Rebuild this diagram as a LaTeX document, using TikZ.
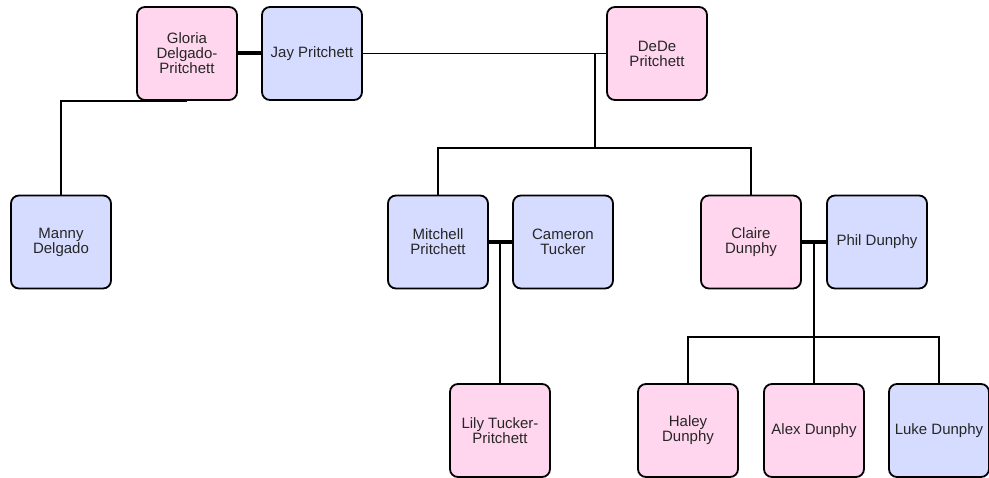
\documentclass[tikz,border=0pt]{standalone}
\usepackage{fontspec}
\setmainfont{Liberation Sans}
\usepackage{tikz}
\usetikzlibrary{calc, positioning}
\definecolor{herfill}{RGB}{255,214,238}
\definecolor{himfill}{RGB}{214,220,255}
\tikzstyle{person}=[draw, shape=rectangle, rounded corners=8pt, line width=1.8pt, minimum width=100pt, minimum height=93pt, inner sep=2pt, align=center, text=black!85, font=\fontsize{15}{15}\selectfont]
\tikzstyle{her}=[person, fill=herfill]
\tikzstyle{him}=[person, fill=himfill]
\tikzstyle{link}=[line width=1.4pt]
\tikzstyle{couple}=[line width=4pt]

\begin{document}
\begin{tikzpicture}[x=1pt, y=-1pt]
\useasboundingbox (0,0) rectangle (989,478);
% the top row
\node[her] (T0) at (187, 53.5) {Gloria\\Delgado-\\Pritchett};
\node[him] (T1) at (312, 53.5) {Jay Pritchett};
\node[her] (T2) at (657, 53.5) {DeDe\\Pritchett};
% the middle row
\node[him] (M0) at (61, 242) {Manny\\Delgado};
\node[him] (M1) at (438, 242) {Mitchell\\Pritchett};
\node[him] (M2) at (563, 242) {Cameron\\Tucker};
\node[her] (M3) at (751, 242) {Claire\\Dunphy};
\node[him] (M4) at (877, 242) {Phil Dunphy};
% the bottom row
\node[her] (B0) at (500, 430.5) {Lily Tucker-\\Pritchett};
\node[her] (B1) at (688, 430.5) {Haley\\Dunphy};
\node[her] (B2) at (814, 430.5) {Alex Dunphy};
\node[him] (B3) at (939, 430.5) {Luke Dunphy};
% the junctions
\coordinate (J0) at (595, 53.5);
\coordinate (K0) at (595, 148);
\coordinate (J1) at (500, 242);
\coordinate (J2) at (814, 242);
\coordinate (K2) at (814, 337);
% the couples
\draw[couple] (T0) -- (T1);
\draw[couple] (M1) -- (M2);
\draw[couple] (M3) -- (M4);
\draw[link] (T1) -- (T2);
% the children
\draw[link] (T0.south) -| (M0.north);
\draw[link] (J0) -- (K0);
\draw[link] (M1.north) |- (K0) -| (M3.north);
\draw[link] (J1) -- (B0.north);
\draw[link] (J2) -- (B2.north);
\draw[link] (B1.north) |- (K2) -| (B3.north);
\end{tikzpicture}
\end{document}
